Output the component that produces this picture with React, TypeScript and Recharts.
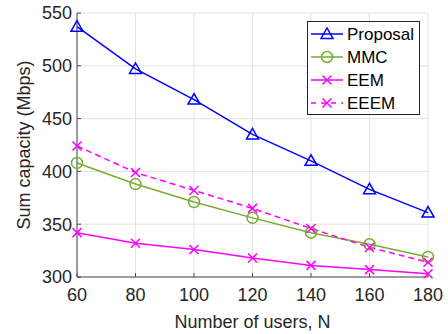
import { LineChart, Line, XAxis, YAxis, CartesianGrid, Legend } from "recharts";

const users = [60, 80, 100, 120, 140, 160, 180];
const proposal = [537, 497, 468, 435, 410, 383, 361];
const mmc = [408, 388, 371, 356, 342, 331, 319];
const eem = [342, 332, 326, 318, 311, 307, 303];
const eeem = [424, 399, 382, 365, 346, 328, 314];

const xTicks = [60, 80, 100, 120, 140, 160, 180];
const yTicks = [300, 350, 400, 450, 500, 550];

const data = users.map((n, i) => ({
  n,
  proposal: proposal[i],
  mmc: mmc[i],
  eem: eem[i],
  eeem: eeem[i],
}));

const BLUE = "#0000ff";
const GREEN = "#77ac30";
const MAGENTA = "#ff00ff";
const FONT = "'Liberation Sans', Arial, Helvetica, sans-serif";
const AXIS = "#4a4a4a";

const Triangle = ({ cx, cy, color }: any) => (
  <polygon
    points={`${cx},${cy - 6} ${cx - 6},${cy + 4.5} ${cx + 6},${cy + 4.5}`}
    fill="none"
    stroke={color}
    strokeWidth={1.5}
  />
);
const Circle = ({ cx, cy, color }: any) => (
  <circle cx={cx} cy={cy} r={5.5} fill="none" stroke={color} strokeWidth={1.5} />
);
const Cross = ({ cx, cy, color }: any) => (
  <path
    d={`M${cx - 4.5},${cy - 4.5}L${cx + 4.5},${cy + 4.5}M${cx - 4.5},${cy + 4.5}L${cx + 4.5},${cy - 4.5}`}
    stroke={color}
    strokeWidth={1.5}
  />
);

const series = [
  { key: "proposal", name: "Proposal", color: BLUE, Marker: Triangle, dash: undefined },
  { key: "mmc", name: "MMC", color: GREEN, Marker: Circle, dash: undefined },
  { key: "eem", name: "EEM", color: MAGENTA, Marker: Cross, dash: undefined },
  { key: "eeem", name: "EEEM", color: MAGENTA, Marker: Cross, dash: "6 4" },
];

const renderLegend = () => (
  <svg width={113} height={94} style={{ display: "block" }}>
    <rect x={0.5} y={0.5} width={112} height={93} fill="#fff" stroke="#262626" strokeWidth={1} />
    {series.map((s, i) => {
      const y = 13 + i * 23;
      const M = s.Marker;
      return (
        <g key={s.key}>
          <line x1={4} x2={36} y1={y} y2={y} stroke={s.color} strokeWidth={1.5} strokeDasharray={s.dash ? "5 5" : undefined} />
          <M cx={20} cy={y} color={s.color} />
          <text x={40} y={y} dy="0.35em" fontSize={17} fontFamily={FONT} fill="#000">
            {s.name}
          </text>
        </g>
      );
    })}
  </svg>
);

export default function App() {
  return (
    <div style={{ position: "fixed", left: 0, top: 0, background: "#fff" }}>
      <LineChart width={448} height={334} data={data} margin={{ top: 13, right: 20, bottom: 0, left: 0 }}>
        <CartesianGrid stroke="#e3e3e3" horizontal vertical />
        <XAxis
          dataKey="n"
          type="number"
          domain={[60, 180]}
          ticks={xTicks}
          height={57}
          stroke={AXIS}
          tickSize={-4}
          tickMargin={15}
          tick={{ fontSize: 18, fontFamily: FONT, fill: "#262626" }}
          label={{ value: "Number of users, N", position: "insideBottom", offset: 6, fontSize: 18, fontFamily: FONT, fill: "#262626" }}
        />
        <XAxis xAxisId="top" dataKey="n" type="number" domain={[60, 180]} ticks={xTicks} orientation="top" height={0} stroke={AXIS} tick={false} tickSize={0} />
        <YAxis
          type="number"
          domain={[300, 550]}
          ticks={yTicks}
          width={77}
          stroke={AXIS}
          tickSize={-4}
          tickMargin={9}
          tick={{ fontSize: 18, fontFamily: FONT, fill: "#262626" }}
          label={{ value: "Sum capacity (Mbps)", angle: -90, position: "insideLeft", offset: 24, style: { textAnchor: "middle" }, fontSize: 18, fontFamily: FONT, fill: "#262626" }}
        />
        <YAxis yAxisId="right" orientation="right" type="number" domain={[300, 550]} ticks={yTicks} width={0} stroke={AXIS} tick={false} tickSize={0} />
        <Legend
          layout="vertical"
          verticalAlign="middle"
          align="center"
          content={renderLegend}
          wrapperStyle={{ position: "absolute", left: 307, top: 21, width: 113, height: 94 }}
        />
        {series.map((s) => (
          <Line
            key={s.key}
            dataKey={s.key}
            name={s.name}
            stroke={s.color}
            strokeWidth={1.5}
            strokeDasharray={s.dash}
            isAnimationActive={false}
            dot={(p: any) => <s.Marker key={`${s.key}-${p.index}`} cx={p.cx} cy={p.cy} color={s.color} />}
            activeDot={false}
          />
        ))}
      </LineChart>
    </div>
  );
}
